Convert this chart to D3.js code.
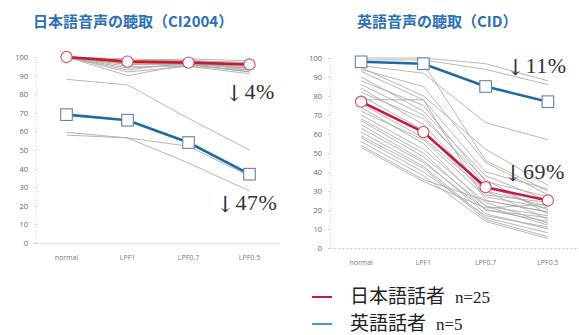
<!DOCTYPE html>
<html>
<head>
<meta charset="utf-8">
<script src="https://cdn.jsdelivr.net/npm/d3@7"></script>
<style>
  html, body { margin: 0; padding: 0; background: #fff; }
  svg { display: block; }
</style>
</head>
<body>
<svg id="chart" width="579" height="335"></svg>
<script>
// Conditions on the x axis
const conditions = ["normal", "LPF1", "LPF0.7", "LPF0.5"];
const yTicks = [0, 10, 20, 30, 40, 50, 60, 70, 80, 90, 100];

// Japanese speech test (CI2004): group means
const jpTestJpMean = [100, 97.5, 97, 96];
const jpTestEnMean = [69, 66, 54, 37];
const jpTestYellow = [100, 96.5, 96.5, 95.5];
// Japanese speech test: individual listeners
const jpTestJpIndiv = [
  [100, 97, 97, 95], [100, 98, 98, 96], [100, 96, 96, 94], [100, 93, 97, 93],
  [100, 90, 96, 92], [100, 99, 98, 97], [100, 95, 95, 93], [99, 97, 96, 95],
  [100, 98, 97, 94], [100, 96, 97, 96], [100, 94, 96, 92], [100, 97, 98, 97],
  [100, 92, 95, 91], [100, 98, 99, 98]
];
const jpTestEnIndiv = [
  [88, 85, 67, 50], [59.5, 56.5, 52, 36], [58, 56.5, 43, 28]
];

// English speech test (CID): group means
const enTestJpMean = [77, 61, 32, 25];
const enTestEnMean = [98, 97, 85, 77];
// English speech test: individual listeners
const enTestEnIndiv = [
  [100, 100, 97, 88], [99, 99, 94, 86], [96, 92, 66, 57]
];
const enTestJpIndiv = [
  [98, 97, 46, 30], [95, 80, 52, 33], [94, 85, 45, 28], [93, 78, 40, 31],
  [90, 72, 38, 25], [88, 75, 35, 27], [86, 70, 33, 20], [84, 65, 30, 22],
  [82, 68, 36, 18], [80, 62, 28, 24], [78, 78, 25, 19], [76, 58, 30, 15],
  [74, 55, 22, 17], [72, 57, 27, 21], [70, 52, 24, 13], [68, 50, 20, 16],
  [67, 48, 22, 12], [65, 46, 18, 10], [63, 45, 20, 14], [61, 43, 16, 8],
  [59, 42, 15, 6], [58, 40, 17, 11], [56, 38, 14, 5], [54, 36, 25, 19],
  [53, 35, 21, 23]
];

// Change annotations: position in band steps from the plot's left edge, and value height
const jpTestNotes = [{ pct: "4%", at: 3.1, v: 77.5 }, { pct: "47%", at: 2.95, v: 17.7 }];
const enTestNotes = [{ pct: "11%", at: 2.83, v: 92 }, { pct: "69%", at: 2.79, v: 36.5 }];

const svg = d3.select("#chart");

const RED = "#c8183c";
const BLUE = "#1e6aa5";
const GRAY = "#a9a9a9";

function panel(opt) {
  const x = d3.scaleBand().domain(conditions).range(opt.xRange);
  const y = d3.scaleLinear().domain([0, 100]).range(opt.yRange);
  const cx = d => x(d) + x.bandwidth() / 2;
  const g = svg.append("g");

  // Title
  g.append("text")
    .attr("x", opt.titleX).attr("y", 27)
    .attr("font-family", "'Noto Sans CJK JP', sans-serif")
    .attr("font-size", 15).attr("font-weight", "bold")
    .attr("fill", "#2b6fb6")
    .text(opt.title);

  // Y axis
  const ya = g.append("g").attr("transform", `translate(${opt.xRange[0]},0)`)
    .call(d3.axisLeft(y).tickValues(yTicks).tickSize(2).tickPadding(6));
  ya.select(".domain").attr("stroke", "#d0d0d0").attr("stroke-dasharray", "1,2");
  ya.selectAll(".tick line").attr("stroke", "#d0d0d0");
  ya.selectAll(".tick text").attr("fill", "#666").attr("font-size", 7.5)
    .attr("font-family", "'Open Sans', sans-serif");

  // X axis
  const xa = g.append("g").attr("transform", `translate(0,${opt.yRange[0]})`)
    .call(d3.axisBottom(x).tickSize(0).tickPadding(opt.xPad));
  xa.select(".domain").attr("stroke", "#c8c8c8").attr("stroke-dasharray", "2,2");
  xa.selectAll(".tick text").attr("fill", "#777").attr("font-size", 7)
    .attr("font-family", "'Open Sans', sans-serif");

  const line = d3.line().x((d, i) => cx(conditions[i])).y(d => y(d));

  // Individual listeners
  g.append("g").selectAll("path").data(opt.indiv).join("path")
    .attr("d", line).attr("fill", "none")
    .attr("stroke", GRAY).attr("stroke-width", 1).attr("opacity", 0.85);

  if (opt.yellow) {
    g.append("path").attr("d", line(opt.yellow)).attr("fill", "none")
      .attr("stroke", "#e8c040").attr("stroke-width", 1.2);
  }

  // Group means
  function meanLine(vals, color, shape) {
    g.append("path").attr("d", line(vals)).attr("fill", "none")
      .attr("stroke", color).attr("stroke-width", 2.6);
    const m = g.append("g").selectAll("g").data(vals).join("g")
      .attr("transform", (d, i) => `translate(${cx(conditions[i])},${y(d)})`);
    if (shape === "circle") {
      m.append("circle").attr("r", 5.6).attr("fill", "#fff")
        .attr("stroke", "#d0505e").attr("stroke-width", 1.1);
    } else {
      m.append("rect").attr("x", -5.8).attr("y", -5.8).attr("width", 11.6).attr("height", 11.6)
        .attr("fill", "#fff").attr("stroke", "#6283a0").attr("stroke-width", 1.1);
    }
  }
  opt.means.forEach(mn => meanLine(mn.vals, mn.color, mn.shape));

  // Change annotations: a tall thin arrow followed by the percentage
  const notes = g.append("g").selectAll("text").data(opt.notes).join("text")
    .attr("x", d => opt.xRange[0] + d.at * x.step())
    .attr("y", d => y(d.v))
    .attr("fill", "#333");
  notes.append("tspan")
    .attr("font-family", "'DejaVu Serif', serif")
    .attr("font-size", 22).attr("dy", 2)
    .text("↓");
  notes.append("tspan")
    .attr("font-family", "'Liberation Serif', serif")
    .attr("font-size", 22).attr("dx", 1).attr("dy", -2)
    .attr("letter-spacing", 0.5)
    .text(d => d.pct);
}

panel({
  title: "日本語音声の聴取（CI2004）",
  titleX: 33,
  xRange: [36, 280], yRange: [243, 57], xPad: 12,
  indiv: jpTestJpIndiv.concat(jpTestEnIndiv),
  yellow: jpTestYellow,
  means: [
    { vals: jpTestEnMean, color: BLUE, shape: "rect" },
    { vals: jpTestJpMean, color: RED, shape: "circle" }
  ],
  notes: jpTestNotes
});

panel({
  title: "英語音声の聴取（CID）",
  titleX: 357,
  xRange: [330, 579], yRange: [248, 58], xPad: 12,
  indiv: enTestJpIndiv.concat(enTestEnIndiv),
  means: [
    { vals: enTestJpMean, color: RED, shape: "circle" },
    { vals: enTestEnMean, color: BLUE, shape: "rect" }
  ],
  notes: enTestNotes
});

// Legend
const legendItems = [
  { label: "日本語話者", n: "n=25", color: "#c8184a", y: 297 },
  { label: "英語話者", n: "n=5", color: "#3a9cc8", y: 324 }
];
const lg = svg.append("g");
legendItems.forEach(it => {
  lg.append("line").attr("x1", 312).attr("x2", 332).attr("y1", it.y).attr("y2", it.y)
    .attr("stroke", it.color).attr("stroke-width", 2);
  const t = lg.append("text").attr("x", 350).attr("y", it.y + 6)
    .attr("fill", "#222").attr("font-size", 19);
  t.append("tspan").attr("font-family", "'Noto Sans CJK JP', sans-serif").text(it.label);
  t.append("tspan").attr("dx", 10).attr("font-family", "'Liberation Serif', serif")
    .attr("font-size", 17).text(it.n);
});
</script>
</body>
</html>
